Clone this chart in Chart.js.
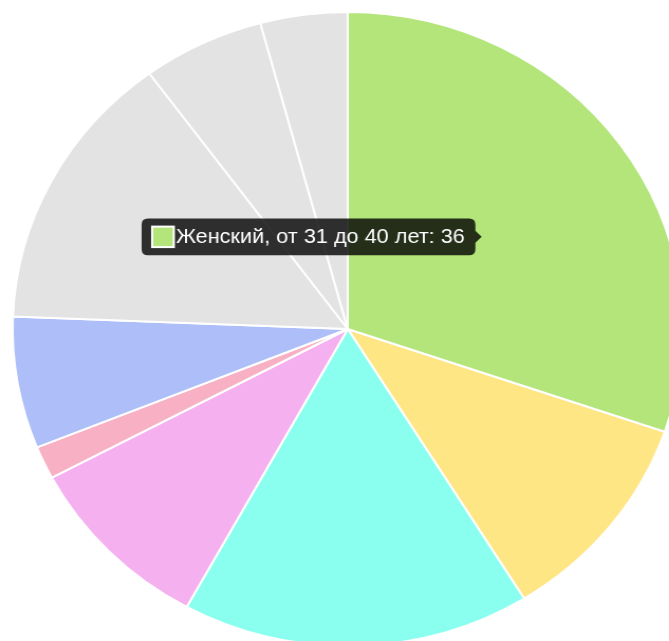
<!DOCTYPE html>
<html>
<head>
<meta charset="utf-8">
<script src="https://cdn.jsdelivr.net/npm/chart.js@4"></script>
<style>
  html, body {
    margin: 0;
    padding: 0;
    overflow: hidden;
    background: #fff;
  }
  .chart-box {
    position: absolute;
    left: 0;
    top: 0;
    width: 658px;
    height: 658px;
    transform: scaleX(1.057);
    transform-origin: 0 0;
  }
</style>
</head>
<body>
<div class="chart-box"><canvas id="chart"></canvas></div>
<script>
const ageGroups = [
  "Женский, от 31 до 40 лет",
  "Женский, от 41 до 50 лет",
  "Мужской, от 31 до 40 лет",
  "Мужской, от 18 до 30 лет",
  "Мужской, до 18 лет",
  "Женский, от 18 до 30 лет",
  "Мужской, от 41 до 50 лет",
  "Женский, старше 50 лет",
  "Мужской, старше 50 лет"
];
const visitors = [36, 13, 20, 11, 2, 8, 17, 7, 5];
const sliceColors = [
  "#b3e57a", "#ffe685", "#8afff0", "#f5b0f0", "#f8b0c4",
  "#adbef8", "#e3e3e3", "#e3e3e3", "#e3e3e3"
];

let ctx = document.getElementById("chart");
let chart = new Chart(ctx, {
  type: "pie",
  data: {
    labels: ageGroups,
    datasets: [
      {
        data: visitors,
        backgroundColor: sliceColors,
        hoverBackgroundColor: sliceColors,
        borderColor: "#fff",
        hoverBorderColor: "#fff",
        borderWidth: 2,
        hoverBorderWidth: 2,
        hoverOffset: 0
      }
    ]
  },
  options: {
    responsive: true,
    maintainAspectRatio: false,
    animation: false,
    layout: { padding: 11 },
    events: [],
    plugins: {
      legend: { display: false },
      tooltip: {
        backgroundColor: "rgba(0,0,0,0.8)",
        bodyColor: "#fff",
        bodyFont: { family: "'Liberation Sans', Arial, sans-serif", size: 20.5 },
        padding: { left: 10, right: 10, top: 6, bottom: 6 },
        cornerRadius: 6,
        caretSize: 6,
        caretPadding: 21,
        callbacks: {
          title: () => "",
          label: (item) => `${item.label}: ${item.formattedValue}`
        }
      }
    }
  }
});

// show the tooltip for the first slice
let active = [{ datasetIndex: 0, index: 0 }];
let pos = chart.getDatasetMeta(0).data[0].tooltipPosition();
chart.setActiveElements(active);
chart.tooltip.setActiveElements(active, pos);
chart.update();
</script>
</body>
</html>
